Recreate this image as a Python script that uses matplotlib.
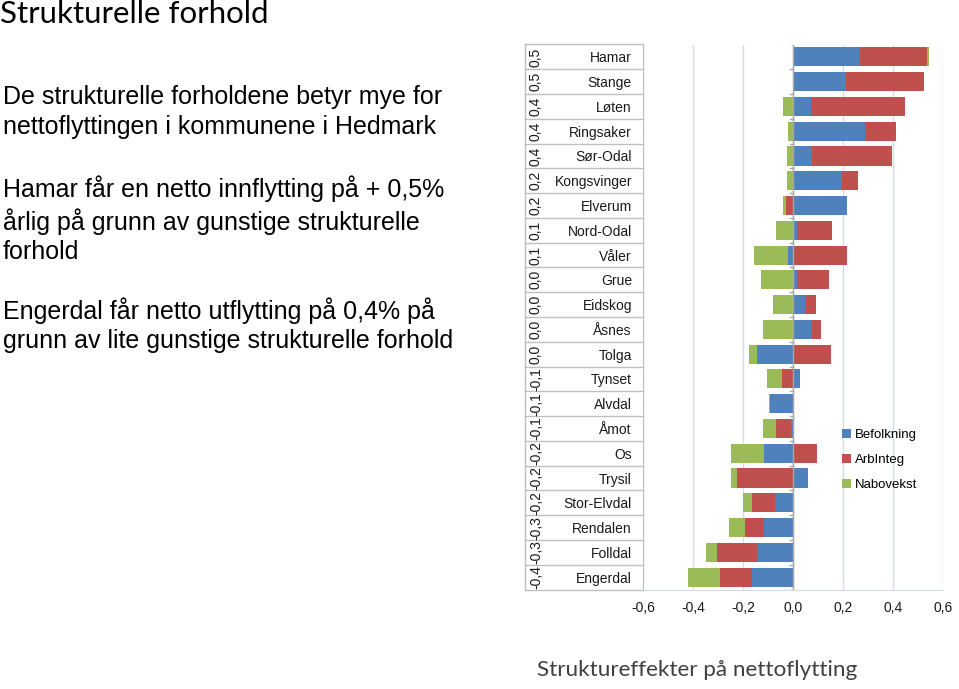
import matplotlib
matplotlib.use("Agg")
import matplotlib.pyplot as plt
import matplotlib.transforms as mtransforms
import numpy as np

# ── Data (lest av figuren) ────────────────────────────────────────────────────
kommuner = ["Hamar", "Stange", "Løten", "Ringsaker", "Sør-Odal", "Kongsvinger",
            "Elverum", "Nord-Odal", "Våler", "Grue", "Eidskog", "Åsnes", "Tolga",
            "Tynset", "Alvdal", "Åmot", "Os", "Trysil", "Stor-Elvdal",
            "Rendalen", "Folldal", "Engerdal"]
befolkning = [0.267, 0.211, 0.071, 0.287, 0.077, 0.197, 0.216, 0.017, -0.019,
              0.017, 0.049, 0.077, -0.143, 0.028, -0.091, -0.007, -0.115,
              0.061, -0.073, -0.116, -0.143, -0.165]
arbinteg = [0.267, 0.312, 0.376, 0.124, 0.320, 0.063, -0.029, 0.140, 0.217,
            0.127, 0.043, 0.036, 0.152, -0.044, 0.0, -0.060, 0.096, -0.225,
            -0.093, -0.076, -0.161, -0.128]
nabovekst = [0.011, 0.0, -0.040, -0.020, -0.023, -0.024, -0.013, -0.069,
             -0.136, -0.128, -0.081, -0.119, -0.035, -0.061, -0.005, -0.055,
             -0.135, -0.024, -0.033, -0.063, -0.043, -0.129]
sum_etiketter = ["0,5", "0,5", "0,4", "0,4", "0,4", "0,2", "0,2", "0,1", "0,1",
                 "0,0", "0,0", "0,0", "0,0", "-0,1", "-0,1", "-0,1", "-0,2",
                 "-0,2", "-0,2", "-0,3", "-0,3", "-0,4"]
serier = ["Befolkning", "ArbInteg", "Nabovekst"]
xticks = [-0.6, -0.4, -0.2, 0.0, 0.2, 0.4, 0.6]

# ── Farger ────────────────────────────────────────────────────────────────────
BLUE = "#4F81BD"
RED = "#C0504D"
GREEN = "#9BBB59"
GRID = "#D5DCE6"
AXIS = "#A6A6A6"
TXT = "#1a1a1a"

fig = plt.figure(figsize=(9.59, 6.89), dpi=100)
fig.patch.set_facecolor("white")

# ── Tekst til venstre ─────────────────────────────────────────────────────────
fig.text(0.0, 1 - 14 / 689, "Strukturelle forhold", fontsize=22.5,
         family="Lato", color="black", va="center", ha="left")

avsnitt = [
    (98, "De strukturelle forholdene betyr mye for\nnettoflyttingen i kommunene i Hedmark"),
    (188, "Hamar får en netto innflytting på + 0,5%\nårlig på grunn av gunstige strukturelle\nforhold"),
    (310, "Engerdal får netto utflytting på 0,4% på\ngrunn av lite gunstige strukturelle forhold"),
]
for ypx, tekst in avsnitt:
    fig.text(3 / 959, 1 - (ypx - 13) / 689, tekst, fontsize=18,
             family="Liberation Sans", color="black", va="top", ha="left",
             linespacing=1.29)

# ── Diagram ───────────────────────────────────────────────────────────────────
ax = fig.add_axes([643 / 959, 1 - 589.5 / 689, 300 / 959, 545 / 689])
y = np.arange(len(kommuner))

pos_cum = np.zeros(len(kommuner))
neg_cum = np.zeros(len(kommuner))
for navn, verdier, farge in zip(serier, [befolkning, arbinteg, nabovekst],
                                [BLUE, RED, GREEN]):
    v = np.array(verdier)
    left = np.where(v >= 0, pos_cum, neg_cum)
    ax.barh(y, v, left=left, height=0.77, color=farge, label=navn, zorder=3)
    pos_cum += np.where(v >= 0, v, 0)
    neg_cum += np.where(v < 0, v, 0)

ax.set_xlim(-0.6, 0.6)
ax.set_ylim(len(kommuner) - 0.5, -0.5)
ax.set_xticks(xticks)
ax.set_xticklabels([f"{t:.1f}".replace(".", ",") for t in xticks],
                   fontsize=10, color=TXT, family="Liberation Sans")
ax.tick_params(axis="x", length=0, pad=8)
ax.set_yticks(y)
ax.set_yticklabels(kommuner, fontsize=10, color=TXT, family="Liberation Sans")
ax.tick_params(axis="y", length=0, pad=8)
ax.grid(axis="x", color=GRID, linewidth=1, zorder=0)
for s in ["top", "right"]:
    ax.spines[s].set_visible(False)
ax.spines["left"].set_color("#BFBFBF")
ax.spines["bottom"].set_color(GRID)

# nullinje med små tikk
ax.axvline(0, color=AXIS, linewidth=1, zorder=4)
for b in np.arange(len(kommuner) + 1) - 0.5:
    ax.plot([-0.012, 0], [b, b], color=AXIS, linewidth=1, zorder=4)

# tabell til venstre med summer
trans = mtransforms.blended_transform_factory(ax.transAxes, ax.transData)
x0 = (525 - 643) / 300
for b in np.arange(len(kommuner) + 1) - 0.5:
    ax.plot([x0, 0], [b, b], color="#BFBFBF", linewidth=1, transform=trans,
            clip_on=False)
ax.plot([x0, x0], [-0.5, len(kommuner) - 0.5], color="#BFBFBF", linewidth=1,
        transform=trans, clip_on=False)
for yi, lab in zip(y, sum_etiketter):
    ax.text((536 - 643) / 300, yi, lab, rotation=90, ha="center", va="center",
            fontsize=10, color=TXT, family="Liberation Sans", transform=trans)

# forklaring
ax.legend(loc="upper left", bbox_to_anchor=(842 / 959, 1 - 429 / 689),
          bbox_transform=fig.transFigure, frameon=False,
          handlelength=0.7, handleheight=0.7, handletextpad=0.25,
          labelspacing=0.95, borderaxespad=0, borderpad=0,
          prop={"family": "Liberation Sans", "size": 9.5})

# bildetekst
fig.text(537 / 959, 1 - 670 / 689, "Struktureffekter på nettoflytting",
         fontsize=16.2, family="Lato", color="#404040", va="center", ha="left")

fig.savefig("out.png", dpi=100)
